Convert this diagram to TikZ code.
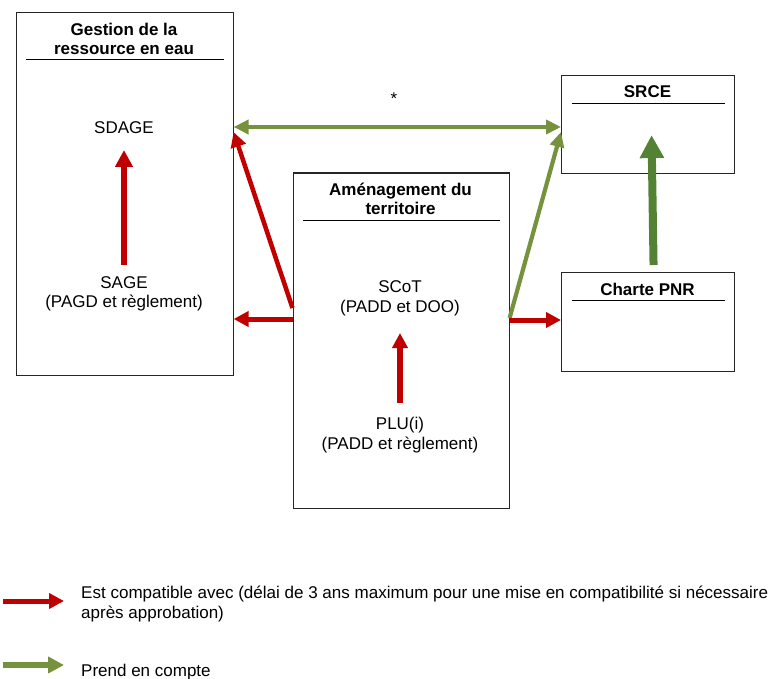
\documentclass[tikz,border=0pt]{standalone}
\usepackage{fontspec}
\setmainfont{Liberation Sans}
\usetikzlibrary{arrows.meta,calc}
\definecolor{cred}{RGB}{192,0,0}
\definecolor{cgreen}{RGB}{118,146,60}
\definecolor{cdgreen}{RGB}{84,130,53}
\begin{document}
\begin{tikzpicture}[x=1pt,y=-1pt,
  box/.style={draw=black!85, line width=1.1pt, anchor=north west, inner sep=0pt},
  txt/.style={font=\fontsize{17}{19.5}\selectfont, align=center, inner sep=0pt},
  ttl/.style={font=\bfseries\fontsize{17}{19.5}\selectfont, align=center, inner sep=0pt},
  rule/.style={draw=black, line width=0.9pt},
  rarr/.style={draw=cred, line width=5pt, -{Triangle[length=15pt,width=15pt]}},
  garr/.style={draw=cgreen, line width=4.5pt, -{Triangle[length=15pt,width=14pt]}},
  garrb/.style={draw=cgreen, line width=4.5pt, {Triangle[length=15pt,width=14pt]}-{Triangle[length=15pt,width=14pt]}},
  dgarr/.style={draw=cdgreen, line width=8pt, -{Triangle[length=23pt,width=23pt]}},
  legtxt/.style={font=\fontsize{17}{19.5}\selectfont, inner sep=0pt, anchor=base west}
]
\useasboundingbox (0,0) rectangle (771,679);

% boxes
\node[box, minimum width=216.5pt, minimum height=363pt] (gest) at (16,12) {};
\node[box, minimum width=216pt, minimum height=335.5pt] (amen) at (292.5,172.5) {};
\node[box, minimum width=173pt, minimum height=98pt] (srce) at (561,75) {};
\node[box, minimum width=173pt, minimum height=99pt] (pnr) at (561,272) {};

% titles
\node[ttl] (gestT) at (124,39) {Gestion de la\\ressource en eau};
\draw[rule] ($(gest.north west)+(10,47.5)$) -- ($(gest.north east)+(-10,47.5)$);
\node[ttl] (amenT) at (400.5,199) {Aménagement du\\territoire};
\draw[rule] ($(amen.north west)+(10.5,47.5)$) -- ($(amen.north east)+(-10,47.5)$);
\node[ttl] (srceT) at (647.5,92) {SRCE};
\draw[rule] ($(srce.north west)+(10.5,28)$) -- ($(srce.north east)+(-10.5,28)$);
\node[ttl] (pnrT) at (647.5,289) {Charte PNR};
\draw[rule] ($(pnr.north west)+(10.5,28)$) -- ($(pnr.north east)+(-10.5,28)$);

% texts
\node[txt] (sdage) at (124,128) {SDAGE};
\node[txt] (sage) at (124,294) {SAGE\\(PAGD et règlement)};
\node[txt] (scot) at (400,298.5) {SCoT\\(PADD et DOO)};
\node[txt] (plu) at (400,435) {PLU(i)\\(PADD et règlement)};
\node[txt] (star) at (394,99) {*};

% connectors
\draw[draw=cred, line width=6pt, -{Triangle[length=17pt,width=17pt]}] (sage.north |- 0,265) -- (sdage.south |- 0,150);
\draw[rarr, line width=6pt] (plu.north |- 0,403) -- (scot.south |- 0,333);
\draw[garrb] (gest.east |- 0,127) -- (srce.west |- 0,127);
\draw[rarr, line width=4.5pt] (amen.west |- 0,308) -- (gest.east |- 0,132);
\draw[rarr] (amen.west |- 0,319) -- (gest.east |- 0,319);
\draw[garr, line width=4.2pt] (amen.east |- 0,318) -- (srce.west |- 0,132);
\draw[rarr] (amen.east |- 0,320) -- (pnr.west |- 0,320);
\draw[dgarr] ([xshift=5.5pt,yshift=7pt]pnr.north) -- ([xshift=3.5pt,yshift=39pt]srce.south);

% legend
\node[legtxt] (leg1) at (81,598) {\resizebox{687pt}{\height}{Est compatible avec (délai de 3 ans maximum pour une mise en compatibilité si nécessaire}};
\node[legtxt] (leg2) at (81,618) {après approbation)};
\node[legtxt] (leg3) at (81,676) {Prend en compte};
\coordinate (r1) at (3,601);
\coordinate (g1) at (3,665);
\draw[rarr] (r1) -- (r1 -| 64,0);
\draw[draw=cgreen, line width=6pt, -{Triangle[length=16pt,width=16pt]}] (g1) -- (g1 -| 64,0);
\end{tikzpicture}
\end{document}
